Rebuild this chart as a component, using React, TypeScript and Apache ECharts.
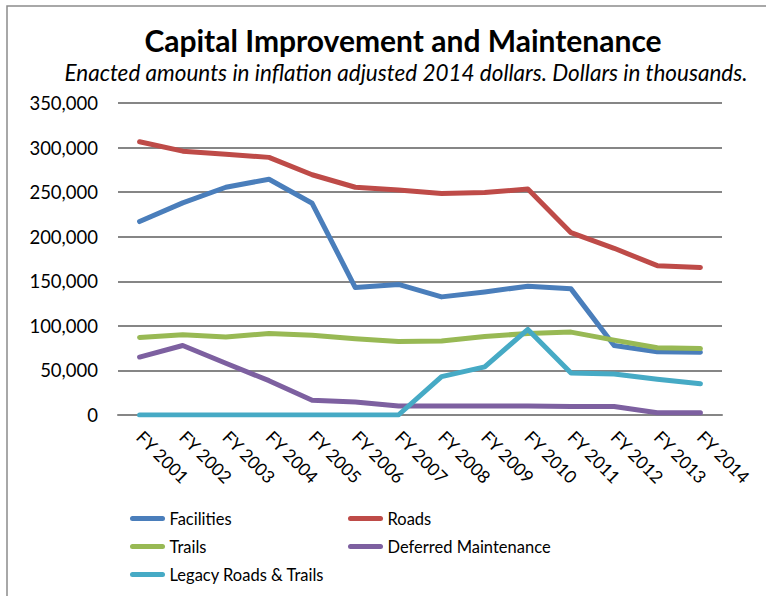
import React, { useEffect, useRef } from "react";
import * as echarts from "echarts";

const categories = ["FY 2001","FY 2002","FY 2003","FY 2004","FY 2005","FY 2006","FY 2007","FY 2008","FY 2009","FY 2010","FY 2011","FY 2012","FY 2013","FY 2014"];
const facilities = [217000,238000,255500,264500,237500,143000,146500,132500,138000,144500,141500,78000,71000,70500];
const roads = [306500,296000,292500,289000,269500,255500,252500,248500,249500,253500,204500,187000,167500,165500];
const trails = [87000,90000,87500,91500,89500,85500,82500,83000,88000,91500,93000,84000,75500,74500];
const deferred = [65000,78000,58000,38500,16500,14500,10000,10000,10000,10000,9500,9500,2500,2500];
const legacy = [0,0,0,0,0,0,0,43000,54000,96000,47000,46000,40000,35000];
const seriesNames = ["Facilities","Roads","Trails","Deferred Maintenance","Legacy Roads & Trails"];
const colors = ["#4A7EBB","#BE4B48","#98B954","#7D60A0","#46AAC5"];

const FONT = "Lato, 'Open Sans', sans-serif";

export default function App() {
  const ref = useRef<HTMLDivElement>(null);
  useEffect(() => {
    if (!ref.current) return;
    const chart = echarts.init(ref.current, null, { renderer: "svg" });
    const data = [facilities, roads, trails, deferred, legacy];
    const icon = "path://M3,0 H39 A3,3 0 0 1 39,6 H3 A3,3 0 0 1 3,0 Z";
    const legendCommon = {
      orient: "vertical" as const,
      icon,
      itemWidth: 42,
      itemHeight: 5,
      itemGap: 11,
      textStyle: { fontFamily: FONT, fontSize: 16.5, color: "#000", padding: [0, 0, 0, -4] },
      selectedMode: false,
    };
    chart.setOption({
      animation: false,
      backgroundColor: "#fff",
      title: [
        {
          text: "Capital Improvement and Maintenance",
          left: 398,
          top: 20,
          textAlign: "center",
          textStyle: { fontFamily: FONT, fontSize: 30, fontWeight: "bold", color: "#000" },
        },
        {
          text: "Enacted amounts in inflation adjusted 2014 dollars. Dollars in thousands.",
          left: 401,
          top: 56,
          textAlign: "center",
          textStyle: { fontFamily: FONT, fontSize: 22.5, fontStyle: "italic", fontWeight: "normal", color: "#000" },
        },
      ],
      graphic: [
        {
          type: "rect",
          shape: { x: 7, y: 6, width: 800, height: 640 },
          style: { fill: "none", stroke: "#8c8c8c", lineWidth: 1.5 },
          silent: true,
        },
      ],
      legend: [
        { ...legendCommon, left: 125, top: 505, data: ["Facilities", "Trails", "Legacy Roads & Trails"] },
        { ...legendCommon, left: 343, top: 505, data: ["Roads", "Deferred Maintenance"] },
      ],
      grid: { left: 118, right: 44, top: 103, bottom: 181 },
      xAxis: {
        type: "category",
        data: categories,
        boundaryGap: true,
        axisLine: { show: true, lineStyle: { color: "#868686", width: 2 } },
        axisTick: { show: false },
        axisLabel: {
          rotate: -45,
          fontFamily: FONT,
          fontSize: 17.5,
          color: "#000",
          margin: 19,
          interval: 0,
        },
      },
      yAxis: {
        type: "value",
        min: 0,
        max: 350000,
        interval: 50000,
        axisLine: { show: false },
        axisTick: { show: false },
        splitLine: { lineStyle: { color: "#868686", width: 2 } },
        axisLabel: {
          fontFamily: FONT,
          fontSize: 18.5,
          color: "#000",
          margin: 20,
          formatter: (v: number) => v.toLocaleString("en-US"),
        },
      },
      series: seriesNames.map((name, i) => ({
        name,
        type: "line",
        data: data[i],
        showSymbol: false,
        symbol: "none",
        color: colors[i],
        lineStyle: { width: 5, color: colors[i], cap: "round", join: "round" },
        z: i === 4 ? 3 : 2,
      })),
    });
    return () => chart.dispose();
  }, []);
  return <div ref={ref} style={{ position: "absolute", left: 0, top: 0, width: 766, height: 596 }} />;
}
